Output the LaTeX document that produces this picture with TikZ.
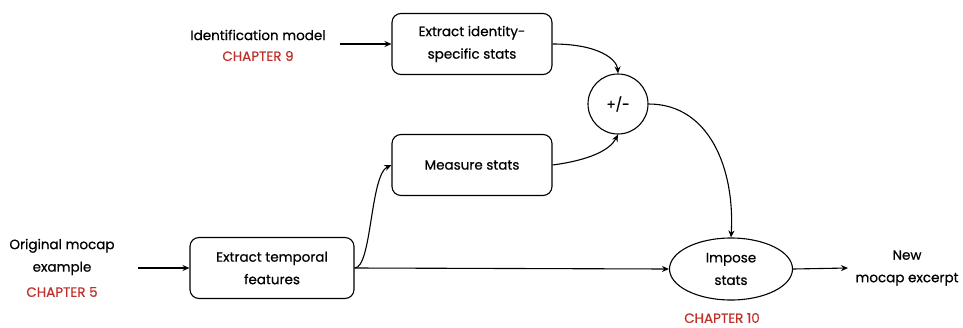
\documentclass[tikz,border=0pt]{standalone}
\usepackage{fontspec}
\setmainfont{Poppins}[FakeBold=0.6,AutoFakeBold=0.6]
\usetikzlibrary{arrows.meta,shapes.geometric}
\definecolor{chapred}{HTML}{C0302A}
\tikzset{
  every node/.style={font=\fontsize{13.5}{22.5}\selectfont, align=center, inner sep=0pt},
  stepbox/.style={draw, rounded corners=9pt, line width=1.1pt, minimum width=160pt, minimum height=61pt},
  conn/.style={line width=1.1pt, -{Stealth[length=7pt,width=6pt]}},
  chap/.style={text=chapred},
}
\begin{document}
\begin{tikzpicture}[x=1pt,y=-1pt]
\useasboundingbox (0,0) rectangle (963,327);

% inputs
\node (idm) at (258,35) {Identification model};
\node[chap] (ch9) at (258,56) {CHAPTER 9};
\node (orig) at (62,257) {Original mocap\\example};
\node[chap] (ch5) at (62,292) {CHAPTER 5};
\coordinate (idin) at (340,44);
\coordinate (origin) at (138,268);

% processing steps
\node[stepbox] (ext) at (472,44) {Extract identity-\\specific stats};
\node[stepbox] (meas) at (472,165) {Measure stats};
\node[stepbox, minimum width=164pt] (temp) at (272,268) {Extract temporal\\features};
\node[draw, circle, line width=1.1pt, minimum size=60pt] (pm) at (618,104) {+/-};
\node[draw, ellipse, line width=1.1pt, minimum width=123pt, minimum height=62pt] (imp) at (731,269) {Impose\\stats};
\node[chap] (ch10) at (722,318) {CHAPTER 10};
\node (out) at (907,268) {New\\mocap excerpt};
\coordinate (outend) at (848,268);

% connectors
\draw[conn] (idin) -- (ext.west);
\draw[conn] (origin) -- (temp.west);
\draw[conn] (temp.east) -- (imp.west);
\draw[conn] (temp.east) .. controls (372,268) and (370,175) .. (meas.west);
\draw[conn] (ext.east) .. controls (600,44) and (617,60) .. (pm.north);
\draw[conn] (meas.east) .. controls (590,160) and (610,150) .. (pm.south);
\draw[conn] (pm.east) .. controls (710,104) and (735,170) .. (imp.north);
\draw[conn] (imp.east) -- (outend);
\end{tikzpicture}
\end{document}
